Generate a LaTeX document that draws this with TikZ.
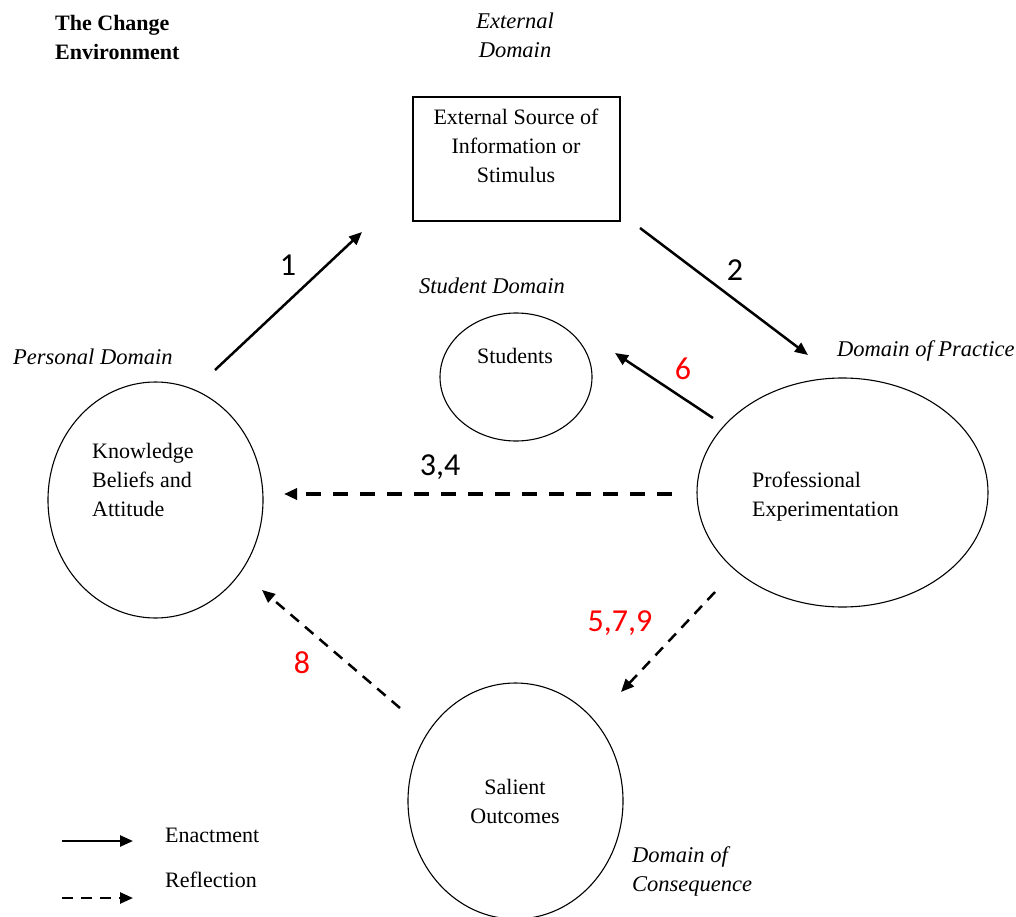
\documentclass[tikz,border=0pt]{standalone}
\usepackage{fontspec}
\setmainfont{Liberation Serif}
\newfontfamily\numfont{Carlito}
\usetikzlibrary{arrows.meta,shapes.geometric}
\begin{document}
\begin{tikzpicture}[x=1pt,y=-1pt,
  txt/.style={font=\fontsize{22}{29}\selectfont, inner sep=0pt},
  dom/.style={font=\fontsize{22.5}{29}\selectfont\itshape, inner sep=0pt},
  num/.style={font=\numfont\fontsize{32}{32}\selectfont, inner sep=0pt},
  rednum/.style={num, text=red},
  oval/.style={draw, ellipse, line width=1.1pt, inner sep=0pt},
  tip/.style={-{Triangle[length=13pt,width=11pt]}},
  enact/.style={tip, line width=2.5pt},
  reflect/.style={tip, line width=2.5pt, dash pattern=on 11pt off 8pt},
  reflectbold/.style={tip, line width=3.5pt, dash pattern=on 15pt off 12pt},
]
\useasboundingbox (0,0) rectangle (1016,917);
\clip (0,0) rectangle (1016,917);

% heading and domain labels
\node[txt, font=\fontsize{22}{29}\selectfont\bfseries, align=left, anchor=west] (title) at (55,37) {The Change\\Environment};
\node[dom, align=center] (extdom) at (515,35) {External\\Domain};
\node[dom] (studom) at (492,286) {Student Domain};
\node[dom, anchor=west] (perdom) at (13,357) {Personal Domain};
\node[dom, anchor=west] (pracdom) at (837,351) {Domain of Practice};
\node[dom, align=left, anchor=west] (consdom) at (632,871) {Domain of\\Consequence};

% shapes
\node[draw, line width=1.1pt, minimum width=207, minimum height=124, inner sep=0pt] (src) at (516.5,159) {};
\node[oval, minimum width=215, minimum height=236] (kba) at (155.5,500) {};
\node[oval, minimum width=152, minimum height=128] (stu) at (516,377) {};
\node[oval, minimum width=291, minimum height=229] (pe) at (842.5,492.5) {};
\node[oval, minimum width=215, minimum height=236] (so) at (515.5,801) {};

% texts inside the shapes
\node[txt, align=center] (srctxt) at (516,146) {External Source of\\Information or\\Stimulus};
\node[txt, align=left, anchor=west] (kbatxt) at (92,480) {Knowledge\\Beliefs and\\Attitude};
\node[txt] (stutxt) at (515,356) {Students};
\node[txt, align=left, anchor=west] (petxt) at (752,497) {Professional\\Experimentation};
\node[txt, align=center] (sotxt) at (515,801) {Salient\\Outcomes};

% connector end points
\coordinate (a1s) at (215,370); \coordinate (a1e) at (362,232);
\coordinate (a2s) at (640,228); \coordinate (a2e) at (808,355);
\coordinate (a6s) at (713,418); \coordinate (a6e) at (615,353);
\coordinate (a3s) at (672,494); \coordinate (a3e) at (284,494);
\coordinate (a5s) at (715,592); \coordinate (a5e) at (621,692);
\coordinate (a8s) at (400,708); \coordinate (a8e) at (262,590);

\draw[enact] (a1s) -- (a1e);
\draw[enact] (a2s) -- (a2e);
\draw[enact] (a6s) -- (a6e);
\draw[reflectbold] (a3s) -- (a3e);
\draw[reflect] (a5s) -- (a5e);
\draw[reflect] (a8s) -- (a8e);

% step numbers
\node[num] (n1) at (288,265) {1};
\node[num] (n2) at (735,270) {2};
\node[rednum] (n6) at (683,369) {6};
\node[num] (n34) at (440,467) {3,4};
\node[rednum] (n579) at (620,623) {5,7,9};
\node[rednum] (n8) at (302,663) {8};

% legend
\coordinate (l1s) at (62,841); \coordinate (l1e) at (133,841);
\coordinate (l2s) at (62,898); \coordinate (l2e) at (133,898);
\draw[enact] (l1s) -- (l1e);
\draw[reflect] (l2s) -- (l2e);
\node[txt, anchor=west] (lenact) at (165,835) {Enactment};
\node[txt, anchor=west] (lrefl) at (165,880) {Reflection};
\end{tikzpicture}
\end{document}
